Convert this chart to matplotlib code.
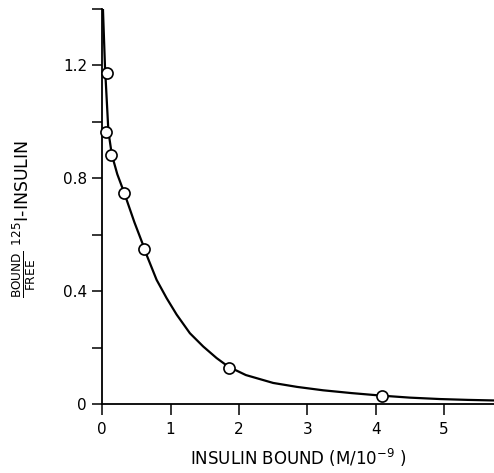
import matplotlib
matplotlib.use("Agg")
import matplotlib.pyplot as plt
from matplotlib.ticker import MultipleLocator

# measured points
bound = [0.073, 0.054, 0.127, 0.32, 0.614, 1.852, 4.09]
ratio = [1.172, 0.966, 0.883, 0.750, 0.549, 0.130, 0.031]

# fitted curve
curve_x = [0.01, 0.04, 0.09, 0.14, 0.22, 0.32, 0.47, 0.62, 0.649, 0.795, 0.942,
           1.088, 1.282, 1.477, 1.673, 1.842, 2.10, 2.5, 2.85, 3.23, 3.65,
           4.09, 4.5, 4.94, 5.35, 5.73]
curve_y = [1.40, 1.195, 0.966, 0.884, 0.815, 0.75, 0.645, 0.55, 0.529, 0.441,
           0.376, 0.318, 0.252, 0.205, 0.164, 0.134, 0.104, 0.076, 0.062,
           0.050, 0.040, 0.031, 0.024, 0.019, 0.016, 0.014]

xticks = [0, 1, 2, 3, 4, 5]
yticks = [0, 0.4, 0.8, 1.2]
ytick_labels = ["0", "0.4", "0.8", "1.2"]

plt.rcParams['font.family'] = ['DejaVu Sans']
plt.rcParams['mathtext.fontset'] = 'dejavusans'

fig = plt.figure(figsize=(4.94, 4.73), dpi=100)
ax = fig.add_axes([0.207, 0.145, 0.793, 0.836])

ax.plot(curve_x, curve_y, color='black', lw=1.6, zorder=2,
        solid_joinstyle='round')
ax.plot(bound, ratio, 'o', ms=8, mfc='white', mec='black', mew=1.2,
        zorder=3, clip_on=False)

ax.set_xlim(0, 5.73)
ax.set_ylim(0, 1.40)
ax.set_xticks(xticks)
ax.set_xticklabels([str(t) for t in xticks])
ax.set_yticks(yticks)
ax.set_yticklabels(ytick_labels)
ax.yaxis.set_minor_locator(MultipleLocator(0.2))

for s in ['top', 'right']:
    ax.spines[s].set_visible(False)
for s in ['left', 'bottom']:
    ax.spines[s].set_linewidth(1.3)

ax.tick_params(axis='both', which='both', direction='out', width=1.1,
               labelsize=11)
ax.tick_params(axis='y', which='both', length=7, pad=4)
ax.tick_params(axis='x', which='major', length=8, pad=5)

ax.set_xlabel(r'INSULIN BOUND (M/10$^{-9}$ )', fontsize=12)
ax.xaxis.set_label_coords(0.5, -0.108)
ax.set_ylabel(r'$\frac{\mathsf{BOUND}}{\mathsf{FREE}}$ $^{125}$I-INSULIN',
              fontsize=12.5)
ax.yaxis.set_label_coords(-0.165, 0.47)

fig.savefig("out.png", dpi=100)
